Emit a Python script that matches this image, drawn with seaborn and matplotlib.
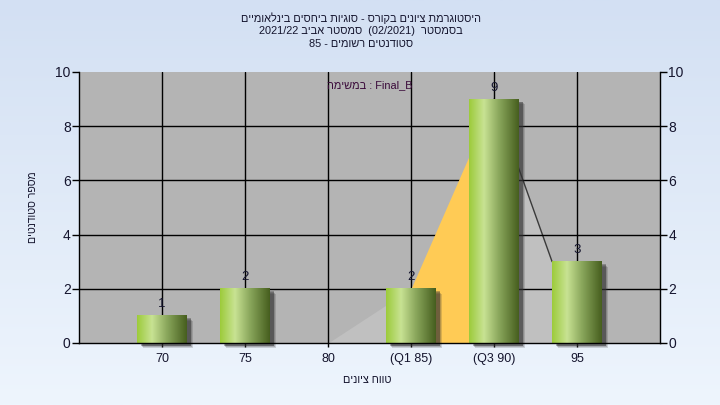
import numpy as np
import pandas as pd
import matplotlib
matplotlib.use("Agg")
import matplotlib.pyplot as plt
import matplotlib.transforms as mtransforms
from matplotlib.patches import Rectangle
from matplotlib.colors import LinearSegmentedColormap
import seaborn as sns

# ---------------- data ----------------
categories = ["70", "75", "80", "(Q1 85)", "(Q3 90)", "95"]
counts = [1, 2, 0, 2, 9, 3]
# distribution outline (area behind the bars)
lower_cats = ["80", "(Q1 85)"]
lower_vals = [0, 2]
iqr_cats = ["(Q1 85)", "(Q3 90)"]
iqr_vals = [2, 9]
upper_cats = ["(Q3 90)", "95"]
upper_vals = [9, 3]
yticks = [0, 2, 4, 6, 8, 10]

# Hebrew text in visual (left-to-right) order
title_lines = [
    "םיימואלניב םיסחיב תויגוס - סרוקב םינויצ תמרגוטסיה",
    "2021/22 ביבא רטסמס  (02/2021)  רטסמסב",
    "85 - םימושר םיטנדוטס",
]
subtitle = "המישמב : Final_B"
xlabel = "םינויצ חווט"
ylabel = "םיטנדוטס רפסמ"

# ---------------- style ----------------
sns.set_theme(style="white")
plt.rcParams["font.family"] = ["Liberation Sans", "DejaVu Sans"]
text_col = "#15152e"
bar_w = 0.6

fig = plt.figure(figsize=(7.2, 4.05), dpi=100)

# background gradient
bg = fig.add_axes([0, 0, 1, 1], zorder=-10)
bg_cmap = LinearSegmentedColormap.from_list("bg", ["#d3e0f3", "#eef5fd"])
bg.imshow(np.linspace(0, 1, 256).reshape(-1, 1), aspect="auto", cmap=bg_cmap,
          extent=[0, 1, 0, 1])
bg.set_axis_off()

ax = fig.add_axes([79 / 720, 1 - 343 / 405, 581 / 720, 271 / 405])
ax.set_facecolor("#b4b4b4")

df = pd.DataFrame({"grade": categories, "count": counts})
sns.barplot(data=df, x="grade", y="count", order=categories, width=bar_w,
            color="#9fcb3e", ax=ax, zorder=4, saturation=1,
            linewidth=0, edgecolor="none")

pos = {c: i for i, c in enumerate(categories)}

# areas
xl = [pos[c] for c in lower_cats]
ax.fill_between(xl, lower_vals, 0, color="#c0c0c0", lw=0, zorder=0.5)
xu = [pos[c] for c in upper_cats]
xu[-1] = xu[-1] - bar_w / 2
ax.fill_between(xu, upper_vals, 0, color="#c0c0c0", lw=0, zorder=0.5)
ax.plot(xu, upper_vals, color="#3a3a3a", lw=1, zorder=0.6)
xi = [pos[c] for c in iqr_cats]
ax.fill_between(xi, iqr_vals, 0, color="#ffcb55", lw=0, zorder=1.5)

# grid
for y in yticks[1:-1]:
    ax.axhline(y, color="black", lw=1, zorder=1)
for i in range(len(categories)):
    ax.axvline(i, color="black", lw=1, zorder=1)

# bars: gradient + shadow
grad_cmap = LinearSegmentedColormap.from_list(
    "bar", [(0, "#9ccb3a"), (0.3, "#c8e293"), (0.6, "#8aa75c"), (1, "#465e1e")])
grad = np.linspace(0, 1, 256).reshape(1, -1)
for p in list(ax.patches):
    h = p.get_height()
    x0, w = p.get_x(), p.get_width()
    p.set_visible(False)
    if h <= 0:
        continue
    for k, a in zip(range(4), [0.18, 0.22, 0.28, 0.35]):
        off = mtransforms.offset_copy(ax.transData, fig=fig, x=6 - k * 0.8,
                                      y=-5 + k * 0.8, units="dots")
        ax.add_patch(Rectangle((x0, 0), w, h, transform=off,
                               facecolor="#333333", alpha=a, lw=0,
                               zorder=3, clip_on=False))
    ax.imshow(grad, aspect="auto", cmap=grad_cmap, interpolation="bilinear",
              extent=[x0, x0 + w, 0, h], zorder=4.5)
    ax.annotate(f"{int(h)}", (x0 + w / 2, h), xytext=(0, 4),
                textcoords="offset points", ha="center", va="bottom",
                fontsize=9.5, color=text_col, zorder=6)

ax.set_xlim(-1, len(categories))
ax.set_ylim(0, 10)
ax.set_yticks(yticks)
ax.set_xticks(range(len(categories)))
ax.set_xticklabels(categories)

for s in ["left", "right", "bottom"]:
    ax.spines[s].set_visible(True)
    ax.spines[s].set_color("black")
    ax.spines[s].set_linewidth(1)
    ax.spines[s].set_zorder(5)
ax.spines["top"].set_visible(False)

ax.tick_params(axis="y", which="both", left=True, right=True, labelleft=True,
               labelright=True, length=5, width=1, color="black",
               labelsize=10, labelcolor=text_col, pad=1, direction="out")
ax.tick_params(axis="x", bottom=True, length=3, width=1, color="black",
               labelsize=9, labelcolor=text_col, pad=4)
ax.set_xlabel("")
ax.set_ylabel("")

fig.text(367 / 720, 1 - 380 / 405, xlabel, ha="center", va="center",
         fontsize=7.8, color=text_col)
fig.text(33 / 720, 1 - 207 / 405, ylabel, ha="center", va="center",
         rotation=90, fontsize=7.6, color=text_col)
for i, line in enumerate(title_lines):
    fig.text(361 / 720, 1 - (18 + 13 * i) / 405, line, ha="center",
             va="center", fontsize=7.9, color=text_col)
ax.text(0.5, 0.952, subtitle, transform=ax.transAxes, ha="center",
        va="center", fontsize=7.9, color="#3a0a3a", zorder=7)

fig.savefig("out.png", dpi=100)
